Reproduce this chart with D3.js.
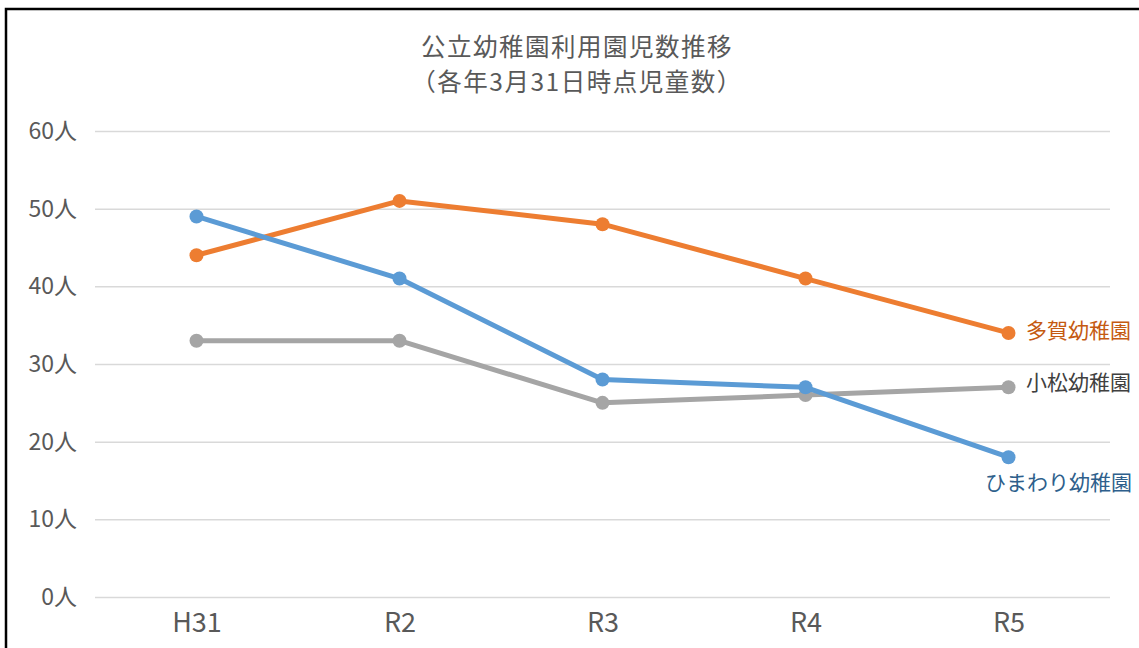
<!DOCTYPE html>
<html>
<head>
<meta charset="utf-8">
<script src="https://cdn.jsdelivr.net/npm/d3@7"></script>
<style>
  body { margin: 0; background: #fff; }
  svg { display: block; font-family: "Noto Sans CJK JP", "Noto Sans", sans-serif; }
</style>
</head>
<body>
<svg id="chart" width="1139" height="648"></svg>
<script>
const categories = ['H31', 'R2', 'R3', 'R4', 'R5']
const tagaValues = [44, 51, 48, 41, 34]
const komatsuValues = [33, 33, 25, 26, 27]
const himawariValues = [49, 41, 28, 27, 18]
const yTicks = [0, 10, 20, 30, 40, 50, 60]

const series = [
  { name: '小松幼稚園', values: komatsuValues, color: '#a5a5a5', labelColor: '#404040', dy: -5 },
  { name: '多賀幼稚園', values: tagaValues, color: '#ed7d31', labelColor: '#c55a11', dy: -2 },
  { name: 'ひまわり幼稚園', values: himawariValues, color: '#5b9bd5', labelColor: '#2e5f8c', dy: 25, below: true }
]

const svg = d3.select('#chart')
const margin = { left: 95, right: 29, top: 131, bottom: 51 }
const width = 1139, height = 648

// outer frame
svg.append('rect')
  .attr('x', 6).attr('y', 9)
  .attr('width', 1200).attr('height', 700)
  .attr('fill', 'none').attr('stroke', '#000').attr('stroke-width', 2.5)

const x = d3.scalePoint().domain(categories)
  .range([margin.left, width - margin.right]).padding(0.5)
const y = d3.scaleLinear().domain([0, 60])
  .range([height - margin.bottom, margin.top])

// title
const title = svg.append('text')
  .attr('text-anchor', 'middle').attr('fill', '#595959')
  .attr('font-size', 24.5).attr('letter-spacing', 1.5)
title.append('tspan').attr('x', 577).attr('y', 56).text('公立幼稚園利用園児数推移')
title.append('tspan').attr('x', 577).attr('y', 91).text('（各年3月31日時点児童数）')

// grid + y axis
const yAxis = d3.axisLeft(y).tickValues(yTicks)
  .tickSize(-(width - margin.left - margin.right))
  .tickPadding(18)
  .tickFormat(d => d + '人')
const gy = svg.append('g').attr('transform', `translate(${margin.left},0)`).call(yAxis)
gy.select('.domain').remove()
gy.selectAll('.tick line').attr('stroke', '#d9d9d9').attr('stroke-width', 1.5)
gy.selectAll('.tick text').attr('fill', '#595959').attr('font-size', 23)
  .attr('font-family', '"Noto Sans CJK JP", sans-serif')

// x axis labels
const xAxis = d3.axisBottom(x).tickSize(0).tickPadding(16)
const gx = svg.append('g').attr('transform', `translate(0,${y(0)})`).call(xAxis)
gx.select('.domain').remove()
gx.selectAll('.tick text').attr('fill', '#595959').attr('font-size', 27)
  .attr('font-family', '"Noto Sans CJK JP", sans-serif')

const line = d3.line().x((d, i) => x(categories[i])).y(d => y(d))

series.forEach(s => {
  const g = svg.append('g')
  g.append('path').datum(s.values)
    .attr('d', line).attr('fill', 'none')
    .attr('stroke', s.color).attr('stroke-width', 5)
    .attr('stroke-linejoin', 'round')
  g.selectAll('circle').data(s.values).enter().append('circle')
    .attr('cx', (d, i) => x(categories[i])).attr('cy', d => y(d))
    .attr('r', 7).attr('fill', s.color)
  const last = s.values[s.values.length - 1]
  g.append('text')
    .attr('x', s.below ? 1132 : 1026)
    .attr('y', y(last) + s.dy)
    .attr('dy', '0.35em')
    .attr('text-anchor', s.below ? 'end' : 'start')
    .attr('fill', s.labelColor).attr('font-size', 21)
    .text(s.name)
})
</script>
</body>
</html>
